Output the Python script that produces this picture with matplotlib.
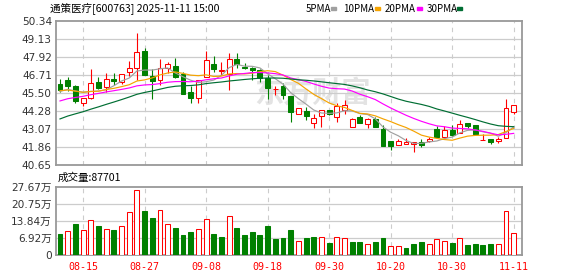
import numpy as np
import pandas as pd
import matplotlib
matplotlib.use('Agg')
import matplotlib.pyplot as plt
from matplotlib.patches import Rectangle

# ---------------- data ----------------
dates = ['08-12', '08-13', '08-14', '08-15', '08-18', '08-19', '08-20', '08-21', '08-22', '08-25',
         '08-26', '08-27', '08-28', '08-29', '09-01', '09-02', '09-03', '09-04', '09-05', '09-08',
         '09-09', '09-10', '09-11', '09-12', '09-15', '09-16', '09-17', '09-18', '09-19', '09-22',
         '09-23', '09-24', '09-25', '09-26', '09-29', '09-30', '10-09', '10-10', '10-13', '10-14',
         '10-15', '10-16', '10-17', '10-20', '10-21', '10-22', '10-23', '10-24', '10-27', '10-28',
         '10-29', '10-30', '10-31', '11-03', '11-04', '11-05', '11-06', '11-07', '11-10', '11-11']

# estimated closes before the visible window (needed for the moving averages)
prior_close = [40.2, 40.5, 40.9, 41.0, 41.2, 41.4, 41.6, 41.8, 42.0, 42.7,
               43.0, 43.3, 43.6, 43.9, 44.2, 44.4, 44.7, 45.0, 45.2, 45.4,
               45.5, 45.8, 45.9, 45.6, 45.7, 45.3, 45.5, 45.6, 45.88]

open_ = [46.10, 46.37, 45.97, 44.80, 45.18, 46.24, 45.88, 46.44, 46.26, 46.93,
         47.16, 48.32, 46.62, 46.35, 47.16, 47.31, 46.77, 45.56, 45.14, 46.55,
         47.47, 46.97, 46.77, 47.78, 47.27, 47.16, 47.04, 46.48, 45.74, 45.97,
         45.29, 44.06, 44.28, 43.45, 43.95, 44.35, 43.86, 44.35, 43.23, 43.86,
         43.39, 43.75, 43.05, 42.27, 42.02, 42.09, 42.07, 42.18, 42.24, 43.05,
         42.56, 43.00, 42.78, 43.45, 43.32, 42.31, 42.38, 42.24, 42.44, 44.24]
high = [46.41, 46.59, 46.00, 45.16, 47.11, 46.55, 46.86, 46.82, 46.75, 47.67,
        49.56, 48.50, 47.11, 47.78, 47.60, 47.87, 46.93, 45.97, 46.37, 48.34,
        47.99, 47.60, 48.19, 48.21, 47.54, 47.27, 47.09, 46.71, 45.97, 46.15,
        45.29, 44.46, 44.53, 44.08, 44.35, 44.35, 44.80, 45.02, 43.83, 44.02,
        43.83, 43.90, 43.32, 42.27, 42.42, 42.49, 42.20, 42.42, 42.51, 43.27,
        43.27, 43.34, 43.68, 43.45, 43.32, 42.74, 42.38, 42.56, 45.09, 44.67]
low = [45.59, 45.65, 44.85, 44.62, 45.09, 45.79, 45.56, 46.03, 46.08, 46.66,
       46.37, 46.70, 45.11, 46.01, 46.82, 46.50, 45.40, 44.80, 44.85, 46.55,
       46.89, 46.71, 45.70, 47.16, 47.09, 46.37, 46.26, 45.07, 45.36, 45.07,
       43.57, 44.06, 43.68, 43.16, 43.23, 44.02, 43.52, 44.08, 43.23, 43.45,
       43.12, 43.18, 41.93, 41.66, 41.97, 42.09, 41.50, 41.86, 42.20, 42.56,
       42.44, 42.62, 42.78, 43.16, 42.72, 42.31, 42.09, 42.11, 42.44, 44.08]
close = [45.72, 45.99, 44.98, 45.16, 46.15, 45.86, 46.41, 46.33, 46.75, 47.16,
         48.23, 46.73, 46.33, 47.16, 47.45, 46.55, 45.45, 45.16, 46.37, 47.74,
         47.11, 47.02, 47.78, 47.42, 47.18, 47.05, 46.48, 45.81, 45.76, 45.36,
         44.19, 44.46, 43.95, 43.79, 44.35, 44.08, 44.62, 44.67, 43.72, 43.45,
         43.77, 43.18, 41.93, 41.95, 42.24, 42.20, 42.18, 41.97, 42.42, 42.56,
         43.00, 42.69, 43.39, 43.27, 42.74, 42.33, 42.20, 42.40, 44.46, 44.67]
volume = [86300, 97300, 127400, 101400, 142500, 119200, 105500, 102800, 117800, 175400,
          263000, 180800, 152100, 183600, 126000, 111000, 82200, 94500, 106900, 146600,
          86300, 74000, 158900, 111000, 82200, 94500, 82200, 119200, 65800, 69900,
          102800, 56200, 69900, 74000, 74000, 49300, 74000, 69900, 53400, 53400,
          45200, 53400, 69900, 37000, 37000, 28800, 45200, 53400, 45200, 65800,
          57500, 49300, 69900, 41100, 45200, 41100, 45200, 45200, 180800, 87701]

tick_dates = ['08-15', '08-27', '09-08', '09-18', '09-30', '10-20', '10-30', '11-11']
price_ticks = [40.65, 41.86, 43.07, 44.28, 45.50, 46.71, 47.92, 49.13, 50.34]
vol_ticks = [0, 6.92, 13.84, 20.75, 27.67]  # 万
ma_periods = [5, 10, 20, 30]
ma_labels = ['5PMA', '10PMA', '20PMA', '30PMA']
ma_colors = ['#a0a0a0', '#f5a300', '#ff00ff', '#006e33']

RED = '#ff0000'
GREEN = '#008000'
GRID = '#cccccc'
FRAME = '#999999'

plt.rcParams['font.family'] = ['DejaVu Sans', 'Noto Sans CJK SC']

W, H = 578, 276
fig = plt.figure(figsize=(W / 100, H / 100), dpi=100)

def rect(l, t, r, b):
    return [l / W, 1 - b / H, (r - l) / W, (b - t) / H]

ax = fig.add_axes(rect(56, 21, 522, 165))
axv = fig.add_axes(rect(56, 187, 522, 255))

o = np.array(open_); h = np.array(high); l = np.array(low); c = np.array(close)
v = np.array(volume) / 10000.0
n = len(c)
x = np.arange(n)
up = c >= o
cols = np.where(up, RED, GREEN)

# wicks & bodies
ax.vlines(x, l, h, colors=cols, lw=0.8, zorder=3)
body_bot = np.minimum(o, c)
body_h = np.maximum(np.abs(c - o), 0.02)
ax.bar(x, body_h, bottom=body_bot, width=0.64,
       facecolor=np.where(up, 'white', GREEN), edgecolor=cols, lw=0.75, zorder=4)

# moving averages
full = pd.Series(list(prior_close) + list(close))
for p, col in zip(ma_periods, ma_colors):
    ma = full.rolling(p).mean().iloc[len(prior_close):].values
    ax.plot(x, ma, color=col, lw=0.85, zorder=5)

# volume (colour by close vs previous close)
prev = np.concatenate([[prior_close[-1]], c[:-1]])
vup = c >= prev
axv.bar(x, v, width=0.64, facecolor=np.where(vup, 'white', GREEN),
        edgecolor=np.where(vup, RED, GREEN), lw=0.75, zorder=4)

xt = [dates.index(d) for d in tick_dates]
for a in (ax, axv):
    a.set_xlim(-0.52, n + 0.08)
    a.set_xticks(xt)
    for xi in xt:
        a.axvline(xi, color=GRID, lw=0.8, ls=(0, (4, 4)), zorder=1)
    for s in a.spines.values():
        s.set_color(FRAME)
        s.set_linewidth(1.3)
    a.tick_params(length=0, colors='#333333', labelsize=7.6, pad=3)

ax.set_ylim(price_ticks[0], price_ticks[-1])
ax.set_yticks(price_ticks)
ax.set_yticklabels([f'{t:.2f}' for t in price_ticks])
for t in price_ticks[1:-1]:
    ax.axhline(t, color=GRID, lw=0.9, zorder=1)
ax.set_xticklabels([])

axv.set_ylim(vol_ticks[0], vol_ticks[-1])
axv.set_yticks(vol_ticks)
axv.set_yticklabels(['0'] + [f'{t:.2f}万' for t in vol_ticks[1:]])
for t in vol_ticks[1:-1]:
    axv.axhline(t, color=GRID, lw=0.9, zorder=1)
axv.set_xticklabels(tick_dates, color=RED, family='DejaVu Sans Mono', fontsize=7.2)
axv.tick_params(axis='x', pad=5)

# watermark
ax.text(0.55, 0.50, '东方财富', transform=ax.transAxes, fontsize=21, color='#e3e3e3',
        ha='center', va='center', weight='bold', style='italic',
        family=['Noto Sans CJK SC'], zorder=0.5)

# header texts
cjk = ['Noto Sans CJK SC', 'DejaVu Sans']
fig.text(50 / W, 1 - 8.5 / H, '通策医疗[600763] 2025-11-11 15:00', fontsize=7.6,
         family=cjk, va='center', ha='left', color='black')
leg_x = [306, 343, 385, 427]
sq_x = [331, 375, 417, 457]
for lab, tx, sx, col in zip(ma_labels, leg_x, sq_x, ma_colors):
    fig.text(tx / W, 1 - 8.5 / H, lab, fontsize=7.0, family=cjk,
             va='center', ha='left', color='black')
    fig.add_artist(Rectangle((sx / W, 1 - 10 / H), 5 / W, 3 / H,
                             transform=fig.transFigure, color=col))
fig.text(58 / W, 1 - 178 / H, f'成交量:{volume[-1]}', fontsize=7.6, family=cjk,
         va='center', ha='left', color='black')

fig.savefig('out.png', dpi=100)
